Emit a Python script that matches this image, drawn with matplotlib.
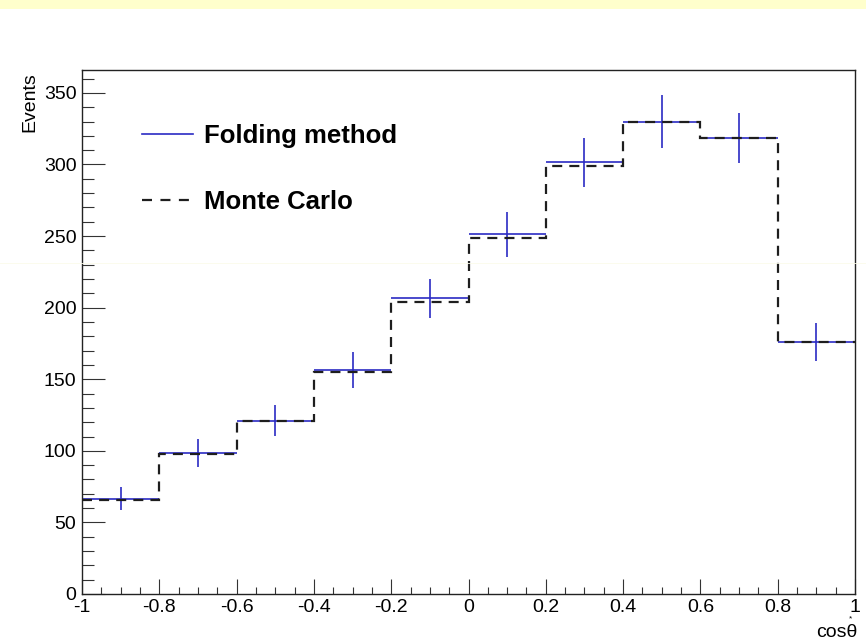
import matplotlib
matplotlib.use('Agg')
import matplotlib.pyplot as plt
import numpy as np
from matplotlib.lines import Line2D
from matplotlib.ticker import MultipleLocator

# cos(theta*) binning, 10 bins from -1 to 1
bin_edges = [-1.0, -0.8, -0.6, -0.4, -0.2, 0.0, 0.2, 0.4, 0.6, 0.8, 1.0]

# unfolded distribution (folding method) with statistical errors
folding = [66.5, 98.4, 121.0, 156.5, 206.6, 251.2, 301.5, 329.8, 318.2, 176.0]
folding_err = [8.1, 10.0, 10.7, 12.4, 13.6, 15.5, 17.0, 18.4, 17.5, 13.2]

# generated Monte Carlo truth
monte_carlo = [65.8, 97.9, 121.0, 154.9, 204.2, 248.6, 298.9, 329.4, 318.2, 176.0]

x_ticks = [-1, -0.8, -0.6, -0.4, -0.2, 0, 0.2, 0.4, 0.6, 0.8, 1]
x_ticklabels = ['-1', '-0.8', '-0.6', '-0.4', '-0.2', '0', '0.2', '0.4', '0.6', '0.8', '1']

plt.rcParams['font.family'] = ['Liberation Sans', 'DejaVu Sans']

BLUE = '#2b2bc4'
DASH = '#1e1e1e'

fig = plt.figure(figsize=(8.66, 6.40), dpi=100)
fig.patch.set_facecolor('white')

# pale band along the top of the canvas
fig.add_artist(plt.Rectangle((0, 1 - 9 / 640), 1, 9 / 640, transform=fig.transFigure,
                             facecolor='#ffffcc', edgecolor='none'))
fig.add_artist(Line2D([0, 1], [1 - 263 / 640] * 2, transform=fig.transFigure,
                      color='#fbfbea', lw=0.6))

ax = fig.add_axes([82 / 866, 1 - 594 / 640, (855 - 82) / 866, (594 - 70) / 640])

edges = np.array(bin_edges)
centers = 0.5 * (edges[:-1] + edges[1:])
half_width = 0.5 * np.diff(edges)

ax.errorbar(centers, folding, xerr=half_width, yerr=folding_err, fmt='none',
            ecolor=BLUE, elinewidth=1.2, capsize=0, zorder=2)
ax.stairs(monte_carlo, edges, baseline=None, color=DASH, lw=1.6,
          linestyle=(0, (4.5, 3.2)), zorder=3)

ax.set_xlim(-1, 1)
ax.set_ylim(0, 366)

ax.set_xticks(x_ticks)
ax.set_xticklabels(x_ticklabels)
ax.xaxis.set_minor_locator(MultipleLocator(0.05))
ax.yaxis.set_major_locator(MultipleLocator(50))
ax.yaxis.set_minor_locator(MultipleLocator(10))

ax.tick_params(axis='both', which='both', direction='in', color='#333333',
               width=0.8, labelsize=14, top=False, right=False)
ax.tick_params(axis='x', which='major', length=10.8, pad=3.5)
ax.tick_params(axis='x', which='minor', length=5.3)
ax.tick_params(axis='y', which='major', length=16.6, pad=4)
ax.tick_params(axis='y', which='minor', length=8.6)

for side in ax.spines.values():
    side.set_linewidth(1.0)
    side.set_color('#222222')

ax.set_ylabel('Events', loc='top', fontsize=14)
ax.yaxis.set_label_coords(-0.056, 0.996)
ax.set_xlabel('cosθ', loc='right', fontsize=14)
ax.xaxis.set_label_coords(1.003, -0.057)
ax.text(0.9948, -0.0475, '*', transform=ax.transAxes, fontsize=6,
        ha='center', va='center')

handles = [Line2D([], [], color=BLUE, lw=1.2),
           Line2D([], [], color=DASH, lw=1.6, linestyle=(0, (4.5, 3.8)))]
ax.legend(handles, ['Folding method', 'Monte Carlo'], loc='upper left',
          bbox_to_anchor=(0.077, 0.8965), frameon=False, borderpad=0,
          borderaxespad=0, handlelength=2.0, handletextpad=0.45,
          labelspacing=1.62, prop={'weight': 'bold', 'size': 18.5})

fig.savefig('out.png', dpi=100, facecolor='white')
